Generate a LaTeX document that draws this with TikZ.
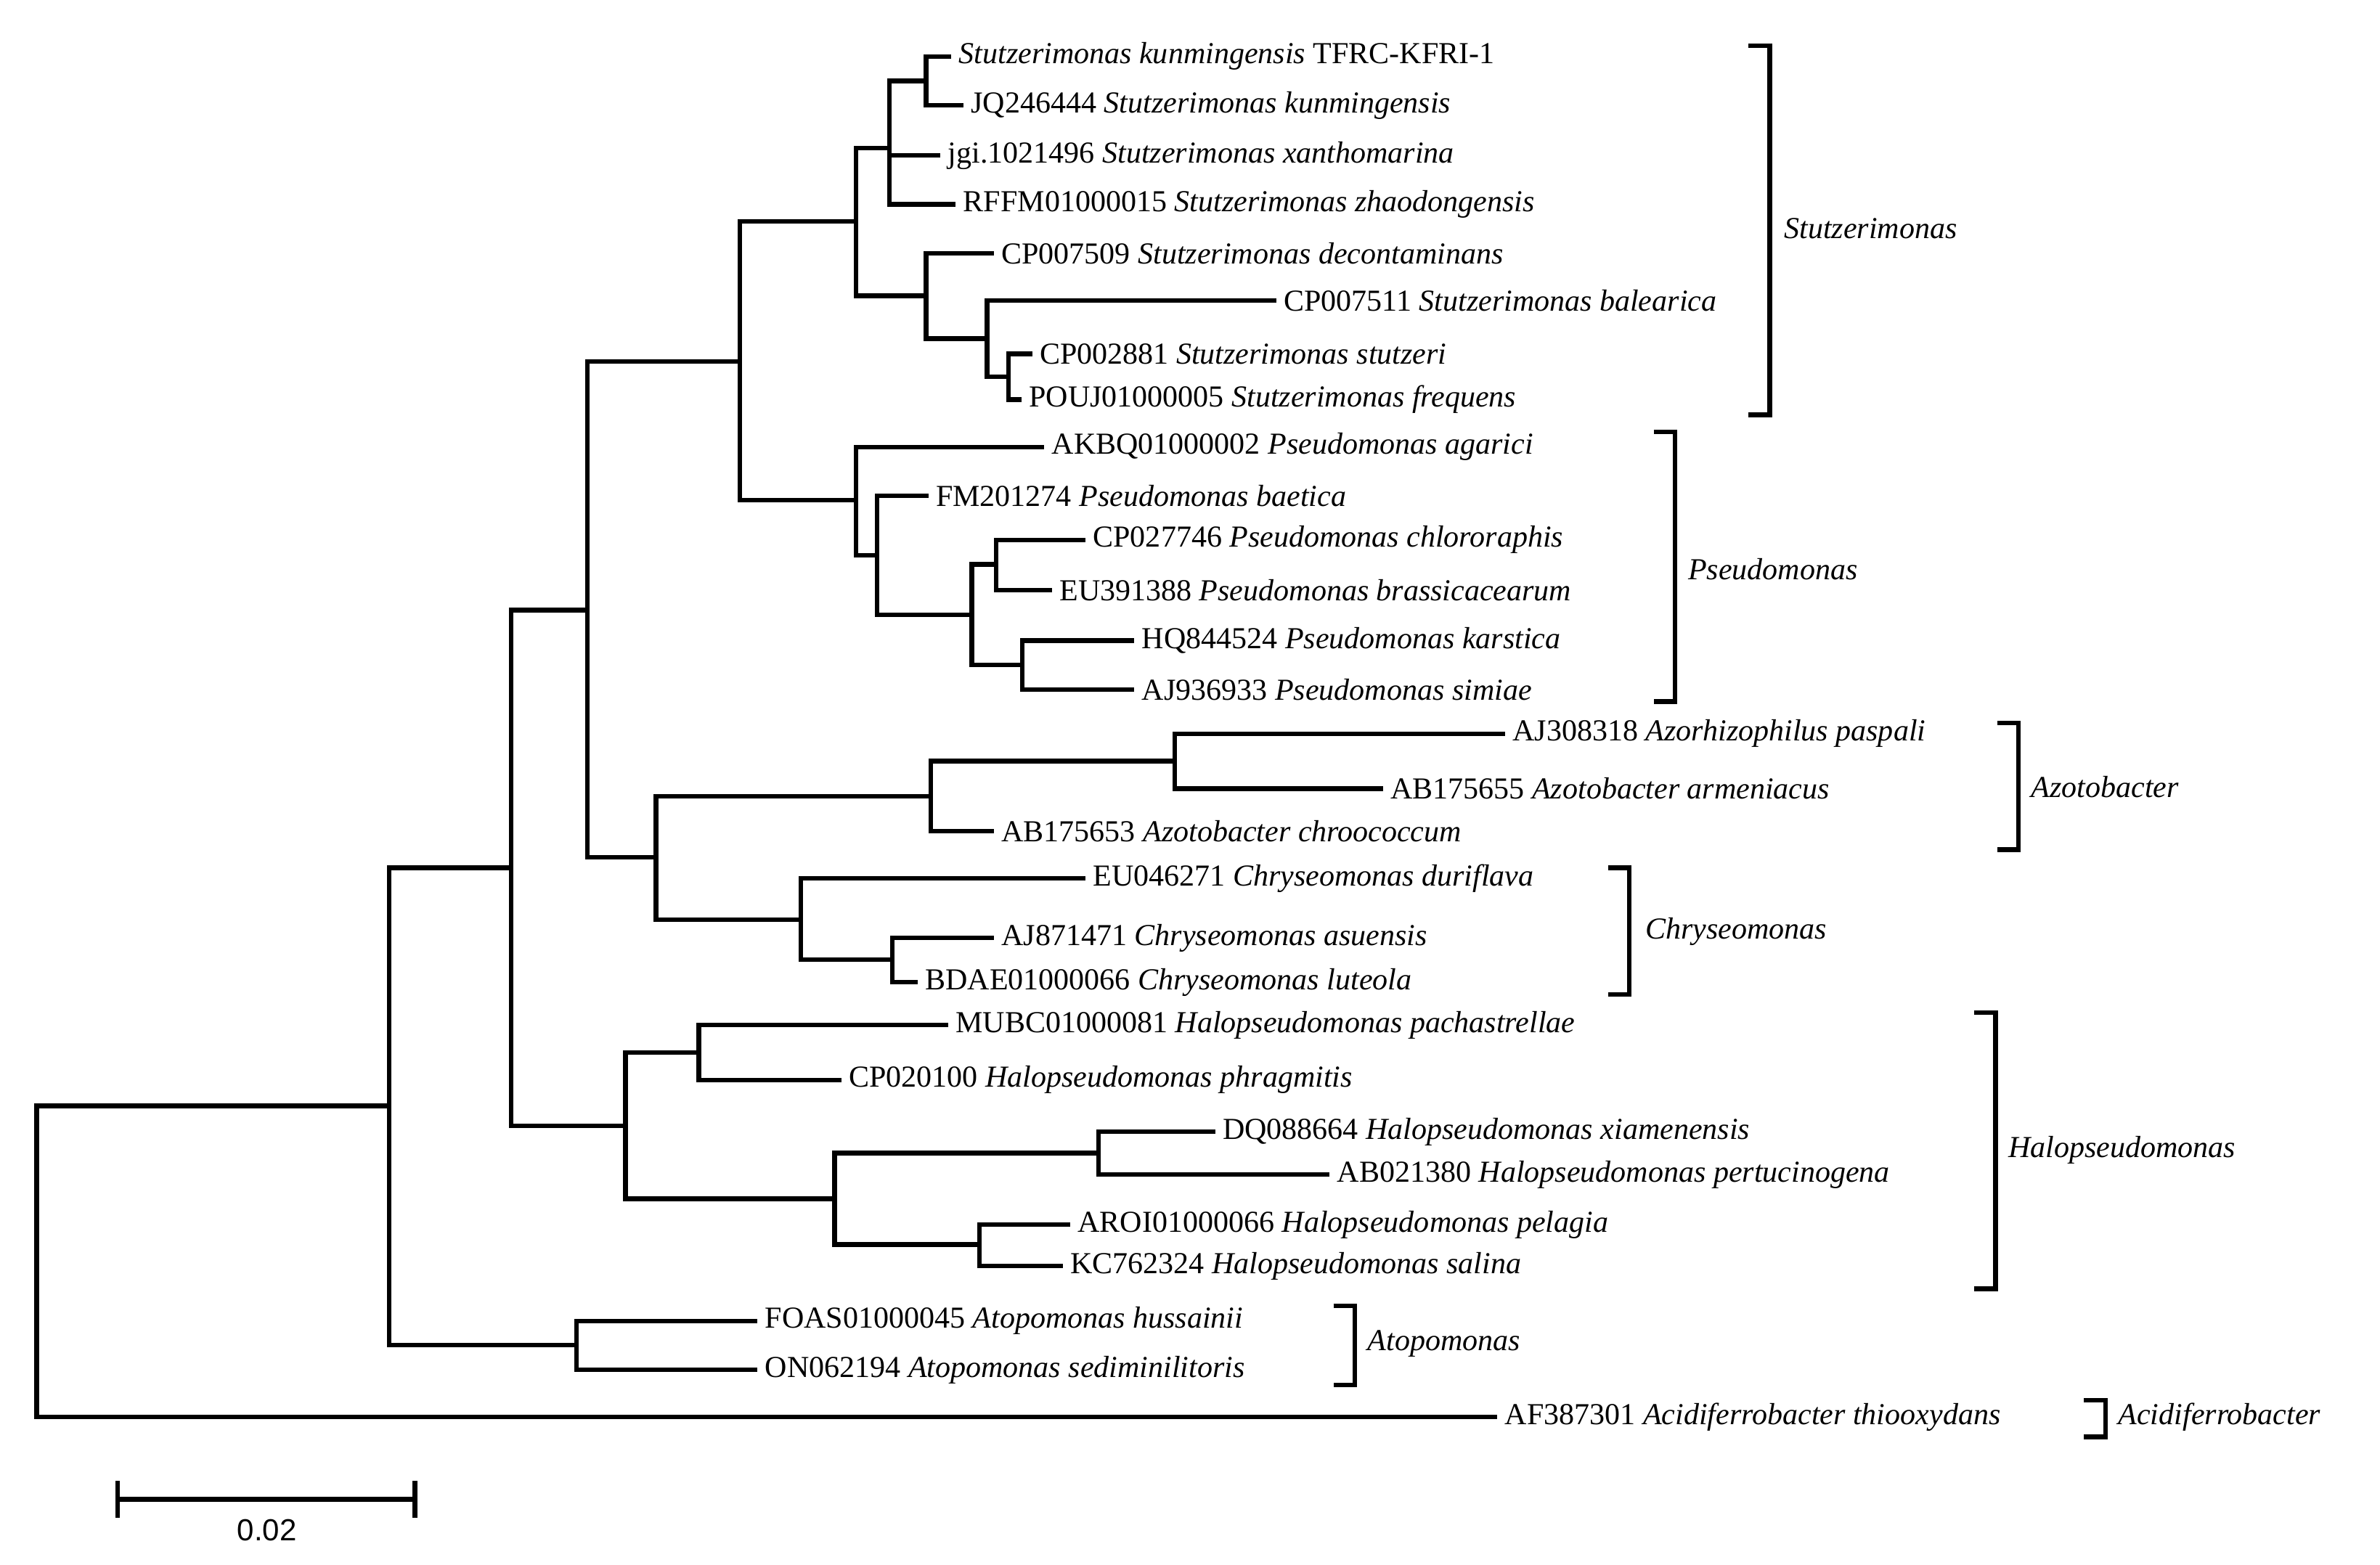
\documentclass[tikz,border=0pt]{standalone}
\usepackage{fontspec}
\setmainfont{Liberation Serif}
\newfontfamily\barfont{Liberation Sans}
\begin{document}
\begin{tikzpicture}[x=0.5pt,y=-0.5pt,line width=1.5pt,
  lab/.style={anchor=west,inner xsep=2.5pt,inner ysep=0pt,font=\fontsize{10}{12}\selectfont},
  br/.style={line width=1.5pt},
  glab/.style={anchor=west,inner sep=0pt,font=\fontsize{10}{12}\selectfont\itshape},
  edge/.style={line cap=rect}]
\useasboundingbox (0,0) rectangle (1560,1026);
% internal nodes
\coordinate (A) at (607,53);
\coordinate (B) at (583,97);
\coordinate (F) at (661,247);
\coordinate (E) at (647,222);
\coordinate (D) at (607,194);
\coordinate (C) at (561,145);
\coordinate (K) at (653,370);
\coordinate (L) at (670,436);
\coordinate (J) at (637,403);
\coordinate (I) at (575,364);
\coordinate (H) at (561,328);
\coordinate (G) at (485,237);
\coordinate (Q) at (770,499);
\coordinate (O) at (610,522);
\coordinate (R) at (585,629);
\coordinate (P) at (525,603);
\coordinate (N) at (430,562);
\coordinate (M) at (385,400);
\coordinate (U) at (458,690);
\coordinate (W) at (720,756);
\coordinate (X) at (642,816);
\coordinate (V) at (547,786);
\coordinate (T) at (410,738);
\coordinate (S) at (335,569);
\coordinate (Z) at (378,882);
\coordinate (Y) at (255,725);
\coordinate (root) at (24,827);
% leaves
\node[lab] (l1) at (622,37) {\textit{Stutzerimonas kunmingensis} TFRC-KFRI-1};
\node[lab] (l2) at (630,69) {JQ246444 \textit{Stutzerimonas kunmingensis}};
\node[lab] (l3) at (615,102) {jgi.1021496 \textit{Stutzerimonas xanthomarina}};
\node[lab] (l4) at (625,134) {RFFM01000015 \textit{Stutzerimonas zhaodongensis}};
\node[lab] (l5) at (650,166) {CP007509 \textit{Stutzerimonas decontaminans}};
\node[lab] (l6) at (835,197) {CP007511 \textit{Stutzerimonas balearica}};
\node[lab] (l7) at (675,232) {CP002881 \textit{Stutzerimonas stutzeri}};
\node[lab] (l8) at (668,262) {POUJ01000005 \textit{Stutzerimonas frequens}};
\node[lab] (l9) at (683,293) {AKBQ01000002 \textit{Pseudomonas agarici}};
\node[lab] (l10) at (607,325) {FM201274 \textit{Pseudomonas baetica}};
\node[lab] (l11) at (710,354) {CP027746 \textit{Pseudomonas chlororaphis}};
\node[lab] (l12) at (688,387) {EU391388 \textit{Pseudomonas brassicacearum}};
\node[lab] (l13) at (742,420) {HQ844524 \textit{Pseudomonas karstica}};
\node[lab] (l14) at (742,452) {AJ936933 \textit{Pseudomonas simiae}};
\node[lab] (l15) at (985,481) {AJ308318 \textit{Azorhizophilus paspali}};
\node[lab] (l16) at (905,517) {AB175655 \textit{Azotobacter armeniacus}};
\node[lab] (l17) at (650,545) {AB175653 \textit{Azotobacter chroococcum}};
\node[lab] (l18) at (710,576) {EU046271 \textit{Chryseomonas duriflava}};
\node[lab] (l19) at (650,615) {AJ871471 \textit{Chryseomonas asuensis}};
\node[lab] (l20) at (600,644) {BDAE01000066 \textit{Chryseomonas luteola}};
\node[lab] (l21) at (620,672) {MUBC01000081 \textit{Halopseudomonas pachastrellae}};
\node[lab] (l22) at (550,708) {CP020100 \textit{Halopseudomonas phragmitis}};
\node[lab] (l23) at (795,742) {DQ088664 \textit{Halopseudomonas xiamenensis}};
\node[lab] (l24) at (870,770) {AB021380 \textit{Halopseudomonas pertucinogena}};
\node[lab] (l25) at (700,803) {AROI01000066 \textit{Halopseudomonas pelagia}};
\node[lab] (l26) at (695,830) {KC762324 \textit{Halopseudomonas salina}};
\node[lab] (l27) at (495,866) {FOAS01000045 \textit{Atopomonas hussainii}};
\node[lab] (l28) at (495,898) {ON062194 \textit{Atopomonas sediminilitoris}};
\node[lab] (l29) at (980,929) {AF387301 \textit{Acidiferrobacter thiooxydans}};
% edges
\draw[edge] (A) |- (l1.west); \draw[edge] (A) |- (l2.west);
\draw[edge] (B) |- (A); \draw[edge] (B) |- (l3.west); \draw[edge] (B) |- (l4.west);
\draw[edge] (F) |- (l7.west); \draw[edge] (F) |- (l8.west);
\draw[edge] (E) |- (l6.west); \draw[edge] (E) |- (F);
\draw[edge] (D) |- (l5.west); \draw[edge] (D) |- (E);
\draw[edge] (C) |- (B); \draw[edge] (C) |- (D);
\draw[edge] (K) |- (l11.west); \draw[edge] (K) |- (l12.west);
\draw[edge] (L) |- (l13.west); \draw[edge] (L) |- (l14.west);
\draw[edge] (J) |- (K); \draw[edge] (J) |- (L);
\draw[edge] (I) |- (l10.west); \draw[edge] (I) |- (J);
\draw[edge] (H) |- (l9.west); \draw[edge] (H) |- (I);
\draw[edge] (G) |- (C); \draw[edge] (G) |- (H);
\draw[edge] (Q) |- (l15.west); \draw[edge] (Q) |- (l16.west);
\draw[edge] (O) |- (Q); \draw[edge] (O) |- (l17.west);
\draw[edge] (R) |- (l19.west); \draw[edge] (R) |- (l20.west);
\draw[edge] (P) |- (l18.west); \draw[edge] (P) |- (R);
\draw[edge] (N) |- (O); \draw[edge] (N) |- (P);
\draw[edge] (M) |- (G); \draw[edge] (M) |- (N);
\draw[edge] (U) |- (l21.west); \draw[edge] (U) |- (l22.west);
\draw[edge] (W) |- (l23.west); \draw[edge] (W) |- (l24.west);
\draw[edge] (X) |- (l25.west); \draw[edge] (X) |- (l26.west);
\draw[edge] (V) |- (W); \draw[edge] (V) |- (X);
\draw[edge] (T) |- (U); \draw[edge] (T) |- (V);
\draw[edge] (S) |- (M); \draw[edge] (S) |- (T);
\draw[edge] (Z) |- (l27.west); \draw[edge] (Z) |- (l28.west);
\draw[edge] (Y) |- (S); \draw[edge] (Y) |- (Z);
\draw[edge] (root) |- (Y); \draw[edge] (root) |- (l29.west);
% group brackets
\draw[br] (1146,30) -| (1160,272) -- (1146,272);
\node[glab] (g1) at (1168,150) {Stutzerimonas};
\draw[br] (1084,283) -| (1098,460) -- (1084,460);
\node[glab] (g2) at (1105,373) {Pseudomonas};
\draw[br] (1309,474) -| (1323,557) -- (1309,557);
\node[glab] (g3) at (1330,516) {Azotobacter};
\draw[br] (1054,569) -| (1068,652) -- (1054,652);
\node[glab] (g4) at (1077,611) {Chryseomonas};
\draw[br] (1294,664) -| (1308,845) -- (1294,845);
\node[glab] (g5) at (1315,754) {Halopseudomonas};
\draw[br] (874,856) -| (888,908) -- (874,908);
\node[glab] (g6) at (895,881) {Atopomonas};
\draw[br] (1366,918) -| (1380,942) -- (1366,942);
\node[glab] (g7) at (1387,929) {Acidiferrobacter};
% scale bar
\coordinate (s1) at (77,983); \coordinate (s2) at (272,983);
\draw (s1) -- (s2);
\draw ([yshift=6]s1) -- ([yshift=-6]s1);
\draw ([yshift=6]s2) -- ([yshift=-6]s2);
\node[font=\barfont\fontsize{10}{12}\selectfont,anchor=north] (sl) at (175,988) {0.02};
\end{tikzpicture}
\end{document}
